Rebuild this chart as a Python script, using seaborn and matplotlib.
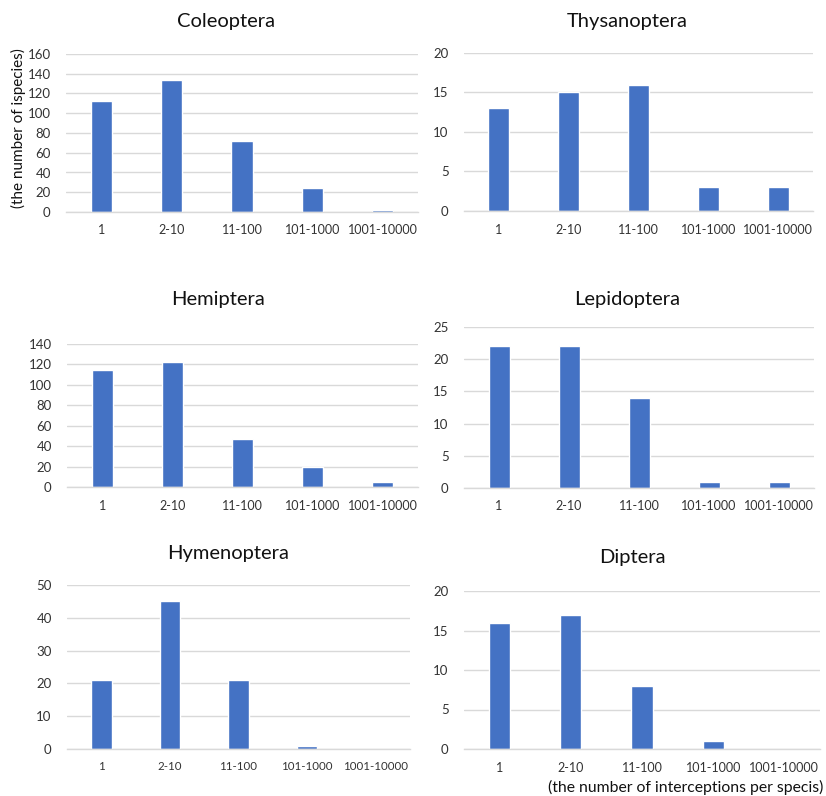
import matplotlib
matplotlib.use("Agg")
import matplotlib.pyplot as plt
import seaborn as sns
import pandas as pd

# interception classes (number of interceptions per species)
classes = ["1", "2-10", "11-100", "101-1000", "1001-10000"]

coleoptera = [112, 134, 72, 24, 2]
thysanoptera = [13, 15, 16, 3, 3]
hemiptera = [115, 122, 47, 20, 5]
lepidoptera = [22, 22, 14, 1, 1]
hymenoptera = [21, 45, 21, 1, 0]
diptera = [16, 17, 8, 1, 0]

orders = ["Coleoptera", "Thysanoptera", "Hemiptera",
          "Lepidoptera", "Hymenoptera", "Diptera"]
counts = [coleoptera, thysanoptera, hemiptera, lepidoptera, hymenoptera, diptera]
ymax = [160, 20, 140, 25, 50, 20]
ystep = [20, 5, 20, 5, 10, 5]

rows = []
for name, vals in zip(orders, counts):
    for c, v in zip(classes, vals):
        rows.append({"order": name, "cls": c, "n": v})
df = pd.DataFrame(rows)

sns.set_theme(style="white")
plt.rcParams["font.family"] = ["Lato", "DejaVu Sans"]

W, H = 826, 796
fig = plt.figure(figsize=(W / 100, H / 100), dpi=100)

# panel boxes in pixels: left, right, top(ymax line), bottom(zero line)
boxes = [
    (66, 418, 54, 212),
    (464, 813, 53, 211),
    (67, 418, 344, 487),
    (464, 814, 327, 488),
    (67, 410, 585, 749),
    (464, 820, 591, 749),
]
# title centres in pixels
titles_xy = [(226, 22), (627, 22), (218, 300), (627, 299), (228, 553), (632, 558)]

blue = "#4472C4"
grid = "#D9D9D9"

for i, (name, (l, r, t, b)) in enumerate(zip(orders, boxes)):
    ax = fig.add_axes([l / W, 1 - b / H, (r - l) / W, (b - t) / H])
    sub = df[df["order"] == name]
    sns.barplot(data=sub, x="cls", y="n", order=classes, color=blue,
                width=0.3, saturation=1, ax=ax, errorbar=None)
    ax.set_ylim(0, ymax[i])
    ax.set_xlim(-0.5, 4.5)
    ax.set_yticks(range(0, ymax[i] + 1, ystep[i]))
    ax.yaxis.grid(True, color=grid, linewidth=1)
    ax.set_axisbelow(True)
    for s in ["top", "right", "left"]:
        ax.spines[s].set_visible(False)
    ax.spines["bottom"].set_color(grid)
    ax.spines["bottom"].set_linewidth(1)
    ax.tick_params(axis="both", length=0, colors="#333333")
    ax.tick_params(axis="y", pad=11, labelsize=9.5)
    xsize = 8.3 if name == "Hymenoptera" else 9
    ax.tick_params(axis="x", pad=9, labelsize=xsize)
    ax.set_xlabel("")
    ax.set_ylabel("")
    tx, ty = titles_xy[i]
    fig.text(tx / W, 1 - ty / H, name, ha="center", va="center",
             fontsize=14.5, color="#111111")

fig.text(18 / W, 1 - 128 / H, "(the number of ispecies)", rotation=90,
         ha="center", va="center", fontsize=11, color="#111111")
fig.text(823 / W, 1 - 787 / H, "(the number of interceptions per specis)",
         ha="right", va="center", fontsize=11.3, color="#111111")

fig.savefig("out.png", dpi=100, facecolor="white")
